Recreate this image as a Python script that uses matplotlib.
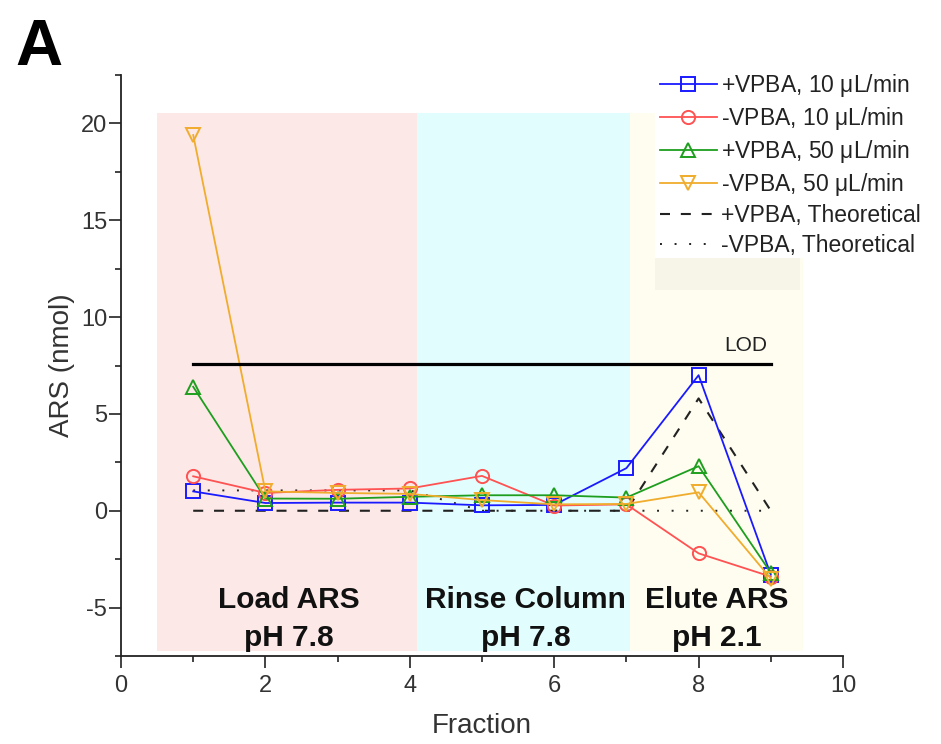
import matplotlib
matplotlib.use("Agg")
import matplotlib.pyplot as plt
from matplotlib.patches import Rectangle
from matplotlib.ticker import MultipleLocator

plt.rcParams['font.family'] = ['Liberation Sans', 'DejaVu Sans']
plt.rcParams['axes.unicode_minus'] = False

# Fraction numbers and measured ARS amounts (nmol)
fractions = [1, 2, 3, 4, 5, 6, 7, 8, 9]
vpba_plus_10 = [1.0, 0.4, 0.42, 0.42, 0.28, 0.3, 2.2, 7.0, -3.3]
vpba_minus_10 = [1.78, 0.92, 1.08, 1.15, 1.8, 0.27, 0.33, -2.2, -3.4]
vpba_plus_50 = [6.4, 0.63, 0.62, 0.72, 0.8, 0.8, 0.68, 2.3, -3.2]
vpba_minus_50 = [19.4, 1.0, 0.92, 0.87, 0.55, 0.33, 0.35, 0.95, -3.5]
theory_plus = [0, 0, 0, 0, 0, 0, 0, 5.8, 0]
theory_minus = [1.05, 1.05, 1.05, 1.05, 0, 0, 0, 0, 0]

lod_value = 7.57
lod_range = [1, 9]

# Process stages: boundaries, labels and shading colours
stage_edges = [0.5, 4.1, 7.05, 9.45]
stage_labels = ["Load ARS\npH 7.8", "Rinse Column\npH 7.8", "Elute ARS\npH 2.1"]
stage_label_x = [2.33, 5.6, 8.25]
stage_colors = ["#fde8e8", "#e2fdfd", "#fffdf0"]

series = [
    (vpba_plus_10, "+VPBA, 10 $\\mathregular{\\mu}$L/min", "#1a1aff", "s"),
    (vpba_minus_10, "-VPBA, 10 $\\mathregular{\\mu}$L/min", "#ff5252", "o"),
    (vpba_plus_50, "+VPBA, 50 $\\mathregular{\\mu}$L/min", "#1e9e1e", "^"),
    (vpba_minus_50, "-VPBA, 50 $\\mathregular{\\mu}$L/min", "#f0ac2c", "v"),
]

fig = plt.figure(figsize=(9.41, 7.44), dpi=100)
ax = fig.add_axes([121 / 941, 1 - 656 / 744, (843 - 121) / 941, (656 - 75) / 744])

# Stage shading
for i, lab in enumerate(stage_labels):
    ax.add_patch(Rectangle((stage_edges[i], -7.25), stage_edges[i + 1] - stage_edges[i],
                           20.55 + 7.25, facecolor=stage_colors[i], edgecolor="none", zorder=0))
    ax.text(stage_label_x[i], -7.3, lab, ha="center", va="bottom", fontsize=21.5,
            fontweight="bold", linespacing=1.45, zorder=6, color="#111111")

# Theoretical curves
ln, = ax.plot(fractions, theory_plus, color="#222222", lw=1.5, label="+VPBA, Theoretical", zorder=2)
ln.set_dashes((4.8, 5.2))
ld, = ax.plot(fractions, theory_minus, color="#222222", lw=1.4, label="-VPBA, Theoretical", zorder=2)
ld.set_dashes((1.0, 6.5))

# Measured series
handles = []
for vals, lab, col, mk in series:
    h, = ax.plot(fractions, vals, color=col, lw=1.3, marker=mk, markersize=9.5,
                 markerfacecolor="none", markeredgecolor=col, markeredgewidth=1.4,
                 label=lab, zorder=4)
    handles.append(h)
handles += [ln, ld]

# Limit of detection
ax.plot(lod_range, [lod_value, lod_value], color="black", lw=2.3, zorder=5)
ax.text(lod_range[1] - 0.05, lod_value + 0.45, "LOD", ha="right", va="bottom",
        fontsize=15, color="#222222")

ax.set_xlim(0, 10)
ax.set_ylim(-7.5, 22.5)
ax.xaxis.set_major_locator(MultipleLocator(2))
ax.xaxis.set_minor_locator(MultipleLocator(1))
ax.yaxis.set_major_locator(MultipleLocator(5))
ax.yaxis.set_minor_locator(MultipleLocator(2.5))
ax.tick_params(which="major", direction="out", length=8.5, width=1.2, labelsize=17,
               colors="#222222", labelcolor="#333333")
ax.tick_params(axis="x", which="major", pad=5.5)
ax.tick_params(axis="y", which="major", pad=1.5)
ax.tick_params(which="minor", direction="out", length=4.3, width=1.2, colors="#222222")
ax.set_yticks([-5, 0, 5, 10, 15, 20])
for s in ["top", "right"]:
    ax.spines[s].set_visible(False)
for s in ["left", "bottom"]:
    ax.spines[s].set_linewidth(1.3)
    ax.spines[s].set_color("#222222")
ax.set_facecolor("white")

ax.set_xlabel("Fraction", fontsize=20, color="#333333", labelpad=11)
ax.set_ylabel("ARS (nmol)", fontsize=20, color="#333333", labelpad=4)

# Legend area
fig.patches.append(Rectangle((655 / 941, 1 - 258 / 744), 286 / 941, 198 / 744,
                             transform=fig.transFigure, facecolor="white",
                             edgecolor="none", zorder=3))
fig.patches.append(Rectangle((655 / 941, 1 - 290 / 744), 145 / 941, 32 / 744,
                             transform=fig.transFigure, facecolor="#f7f5e8",
                             edgecolor="none", zorder=3))
leg = fig.legend(handles=handles, loc="upper left", bbox_to_anchor=(655 / 941, 1 - 67 / 744),
                 frameon=False, fontsize=16.5, handlelength=2.5, handletextpad=0.2,
                 labelspacing=0.27, borderpad=0.2, borderaxespad=0, markerscale=1.0)
leg.set_zorder(10)
for t in leg.get_texts():
    t.set_color("#222222")

fig.text(15 / 941, 1 - 65 / 744, "A", fontsize=47, fontweight="bold", va="baseline")

fig.savefig("out.png", dpi=100)
